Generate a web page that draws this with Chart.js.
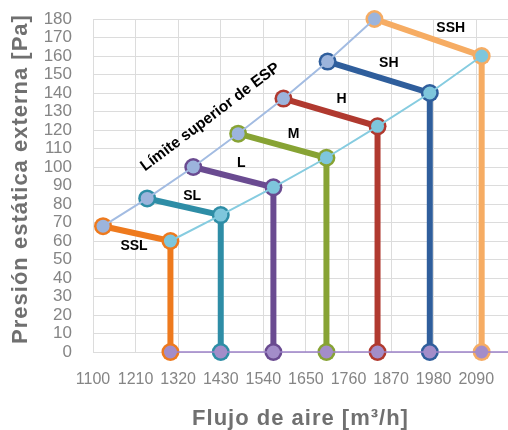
<!DOCTYPE html>
<html>
<head>
<meta charset="utf-8">
<script src="https://cdn.jsdelivr.net/npm/chart.js@4.4.0/dist/chart.umd.min.js"></script>
<style>
  html, body { margin: 0; padding: 0; background: #fff; overflow: hidden; }
  #wrap { width: 508px; height: 430px; }
  canvas { display: block; }
</style>
</head>
<body>
<div id="wrap"><canvas id="chart"></canvas></div>
<script>
// tick labels
const xTicks = [1100, 1210, 1320, 1430, 1540, 1650, 1760, 1870, 1980, 2090];
const yTicks = [0, 10, 20, 30, 40, 50, 60, 70, 80, 90, 100, 110, 120, 130, 140, 150, 160, 170, 180];

// fan speeds, each curve: upper limit point -> lower limit point -> down to 0
const speeds = ["SSL", "SL", "L", "M", "H", "SH", "SSH"];
const upperFlow = [1126, 1240, 1359, 1475, 1592, 1706, 1827];
const upperPress = [68, 83, 100, 118, 137, 157, 180];
const lowerFlow = [1300, 1430, 1566, 1703, 1835, 1970, 2104];
const lowerPress = [60, 74, 89, 105, 122, 140, 160];

const colors = ["#EE7A1E", "#2E8DA6", "#6A4B91", "#87A334", "#B0392F", "#2F5E9C", "#F6AC63"];

// where the speed names sit (data coords)
const namePos = [[1206, 57], [1356, 84], [1483, 102], [1618, 118], [1742, 136.5], [1864, 156], [2024, 175]];

const xTitle = "Flujo de aire [m³/h]";
const yTitle = "Presión estática externa [Pa]";

const speedSets = speeds.map((s, i) => ({
    label: s,
    data: [
        { x: upperFlow[i], y: upperPress[i] },
        { x: lowerFlow[i], y: lowerPress[i] },
        { x: lowerFlow[i], y: 0 },
    ],
    showLine: true,
    borderColor: colors[i],
    backgroundColor: colors[i],
    borderWidth: 6,
    pointRadius: 9,
    pointBorderWidth: 0,
    clip: false,
    order: 10,
}));

const upperSet = {
    label: "upper",
    data: upperFlow.map((x, i) => ({ x, y: upperPress[i] })),
    showLine: true,
    borderColor: "#A3BCE2",
    backgroundColor: "#9CB4DC",
    borderWidth: 2,
    pointRadius: 6.5,
    pointBorderWidth: 0,
    clip: false,
    order: 1,
};
const lowerSet = {
    label: "lower",
    data: lowerFlow.map((x, i) => ({ x, y: lowerPress[i] })),
    showLine: true,
    borderColor: "#86CCE0",
    backgroundColor: "#7EC6DC",
    borderWidth: 2,
    pointRadius: 6.5,
    pointBorderWidth: 0,
    clip: false,
    order: 1,
};
const baseSet = {
    label: "base",
    data: lowerFlow.map(x => ({ x, y: 0 })).concat([{ x: 2172, y: 0 }]),
    showLine: true,
    borderColor: "#9C82C8",
    backgroundColor: "#A38DC9",
    borderWidth: 1.5,
    pointRadius: ctx => (ctx.dataIndex < lowerFlow.length ? 6.5 : 0),
    pointBorderWidth: 0,
    clip: false,
    order: 1,
};

const fam = "'Liberation Sans', Arial, sans-serif";

const labelPlugin = {
    id: "inlineLabels",
    afterDatasetsDraw(chart) {
        const { ctx, scales: { x, y } } = chart;
        ctx.save();
        ctx.fillStyle = "#000";
        ctx.font = "bold 14px " + fam;
        ctx.textAlign = "center";
        ctx.textBaseline = "middle";
        speeds.forEach((s, i) => {
            ctx.fillText(s, x.getPixelForValue(namePos[i][0]), y.getPixelForValue(namePos[i][1]));
        });
        ctx.font = "bold 15.5px " + fam;
        ctx.translate(x.getPixelForValue(1403), y.getPixelForValue(127));
        ctx.rotate(-37 * Math.PI / 180);
        ctx.fillText("Límite superior de ESP", 0, 0);
        ctx.restore();
    },
    afterDraw(chart) {
        // axis titles, drawn by hand so they can get a bit of letter spacing
        const { ctx, chartArea } = chart;
        ctx.save();
        ctx.fillStyle = "#707070";
        ctx.font = "bold 22px " + fam;
        ctx.letterSpacing = "1px";
        ctx.textAlign = "center";
        ctx.textBaseline = "alphabetic";
        ctx.fillText(xTitle, (chartArea.left + chartArea.right) / 2, 425);
        ctx.translate(27, 179);
        ctx.rotate(-Math.PI / 2);
        ctx.fillText(yTitle, 0, 0);
        ctx.restore();
    }
};

const gridColor = "#DCDCDC";

new Chart(document.getElementById("chart"), {
    type: "scatter",
    data: { datasets: [upperSet, lowerSet, baseSet, ...speedSets] },
    options: {
        responsive: true,
        maintainAspectRatio: false,
        animation: false,
        layout: { autoPadding: false, padding: { top: 19, left: 0, right: 0, bottom: 0 } },
        plugins: { legend: { display: false }, tooltip: { enabled: false } },
        scales: {
            x: {
                type: "linear",
                min: 1100,
                max: 2172,
                afterBuildTicks: s => { s.ticks = xTicks.map(v => ({ value: v })); },
                afterFit: s => { s.height = 78; s.paddingLeft = 0; s.paddingRight = 0; },
                ticks: {
                    font: { family: fam, size: 16 }, color: "#858585", padding: 18,
                    autoSkip: false, maxRotation: 0, callback: v => String(v),
                },
                grid: { color: gridColor, drawTicks: false },
                border: { display: false },
            },
            y: {
                min: 0,
                max: 180,
                afterBuildTicks: s => { s.ticks = yTicks.map(v => ({ value: v })); },
                afterFit: s => { s.width = 93; s.paddingTop = 0; s.paddingBottom = 0; },
                ticks: {
                    font: { family: fam, size: 17 }, color: "#858585", padding: 21,
                    autoSkip: false, callback: v => String(v),
                },
                grid: { color: gridColor, drawTicks: false },
                border: { display: false },
            },
        },
    },
    plugins: [labelPlugin],
});
</script>
</body>
</html>
